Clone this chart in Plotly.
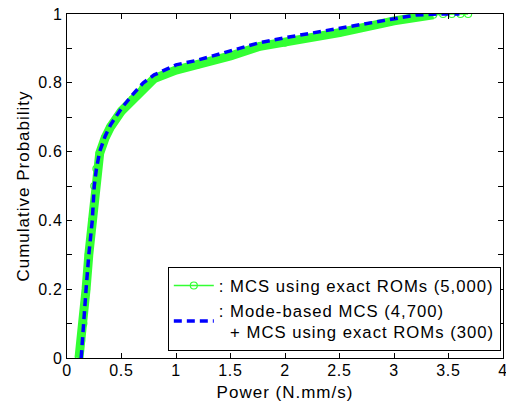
import plotly.graph_objects as go

# Exact-ROM MCS (5,000 samples)
exact_x = [0.11, 0.13, 0.15, 0.175, 0.20, 0.232, 0.25, 0.27, 0.30, 0.35, 0.40, 0.50, 0.60,
           0.70, 0.80, 1.0, 1.2, 1.5, 1.77, 2.0, 2.5, 3.0, 3.2, 3.36, 3.45, 3.53, 3.61, 3.68]
exact_y = [0.0, 0.05, 0.10, 0.20, 0.30, 0.40, 0.50, 0.55, 0.595, 0.64, 0.672, 0.718, 0.752,
           0.785, 0.812, 0.837, 0.853, 0.878, 0.906, 0.917, 0.946, 0.98, 0.993, 0.998, 1.0, 1.0, 1.0, 1.0]

# Mode-based MCS (4,700) + exact ROM MCS (300)
mode_x = [0.13, 0.15, 0.175, 0.20, 0.232, 0.25, 0.27, 0.30, 0.35, 0.40, 0.50, 0.60, 0.70,
          0.80, 1.0, 1.2, 1.5, 1.77, 2.0, 2.5, 3.0, 3.2, 3.4, 3.6]
mode_y = [0.0, 0.10, 0.20, 0.30, 0.40, 0.50, 0.55, 0.60, 0.645, 0.678, 0.726, 0.765, 0.80,
          0.823, 0.852, 0.866, 0.893, 0.917, 0.931, 0.959, 0.988, 0.997, 1.0, 1.0]

legend_names = [": MCS using exact ROMs (5,000)",
                 ": Mode-based MCS (4,700)",
                 "+ MCS using exact ROMs (300)"]

x_tickvals = [0, 0.5, 1, 1.5, 2, 2.5, 3, 3.5, 4]
x_ticktext = ["0", "0.5", "1", "1.5", "2", "2.5", "3", "3.5", "4"]
y_tickvals = [0, 0.2, 0.4, 0.6, 0.8, 1]
y_ticktext = ["0", "0.2", "0.4", "0.6", "0.8", "1"]

x_title = "Power (N.mm/s)"
y_title = "Cumulative Probability"

band_limit = 3.36
band_x = [x for x in exact_x if x <= band_limit]
band_y = [y for x, y in zip(exact_x, exact_y) if x <= band_limit]

GREEN = "#33ff33"
BLUE = "#0000ff"
FONT = "Liberation Sans, Arial, Helvetica, sans-serif"


def sp(t, ls=1.0):
    return '<span style="letter-spacing:%spx">%s</span>' % (ls, t)


fig = go.Figure()
fig.add_trace(go.Scatter(x=band_x, y=band_y, mode="lines",
                         line=dict(color=GREEN, width=9), showlegend=False, hoverinfo="skip"))
fig.add_trace(go.Scatter(x=exact_x, y=exact_y, mode="lines+markers",
                         name=sp(legend_names[0]),
                         line=dict(color=GREEN, width=1.5),
                         marker=dict(symbol="circle-open", size=7, color=GREEN, line=dict(width=1.2))))
fig.add_trace(go.Scatter(x=mode_x, y=mode_y, mode="lines",
                         name=sp(legend_names[1]) + "<br>" + sp("&nbsp;&nbsp;" + legend_names[2]),
                         line=dict(color=BLUE, width=3.5, dash="8px,5px")))

axis_common = dict(showline=True, linecolor="black", linewidth=1, mirror="ticks",
                   ticks="inside", ticklen=5, tickcolor="black", showgrid=False,
                   zeroline=False, ticklabeloverflow="allow", automargin=False,
                   tickfont=dict(size=16, color="black", family=FONT))

fig.update_xaxes(range=[0, 4], tickvals=x_tickvals, ticktext=[sp(t, 0.8) for t in x_ticktext],
                 ticklabelstandoff=-2,
                 title=dict(text=sp(x_title), font=dict(size=17, color="black", family=FONT)),
                 **axis_common)
fig.update_yaxes(range=[0, 1], tickvals=y_tickvals, ticktext=[sp(t, 0.8) for t in y_ticktext],
                 minor=dict(dtick=0.1, ticks="inside", ticklen=5, tickcolor="black"),
                 title=dict(text=sp(y_title), font=dict(size=17, color="black", family=FONT), standoff=4),
                 **axis_common)

fig.update_layout(
    width=506, height=402,
    margin=dict(l=67, r=3, t=14, b=44, autoexpand=False),
    paper_bgcolor="white", plot_bgcolor="white",
    font=dict(family=FONT, size=17, color="black"),
    legend=dict(x=0.995, y=0.02, xanchor="right", yanchor="bottom",
                bordercolor="black", borderwidth=1, bgcolor="white",
                font=dict(size=16.7, family=FONT, color="black"),
                itemwidth=40, valign="middle", tracegroupgap=0),
)

fig.write_html("out.html", config={"displayModeBar": False},
               post_script="document.body.style.margin='0px';")
